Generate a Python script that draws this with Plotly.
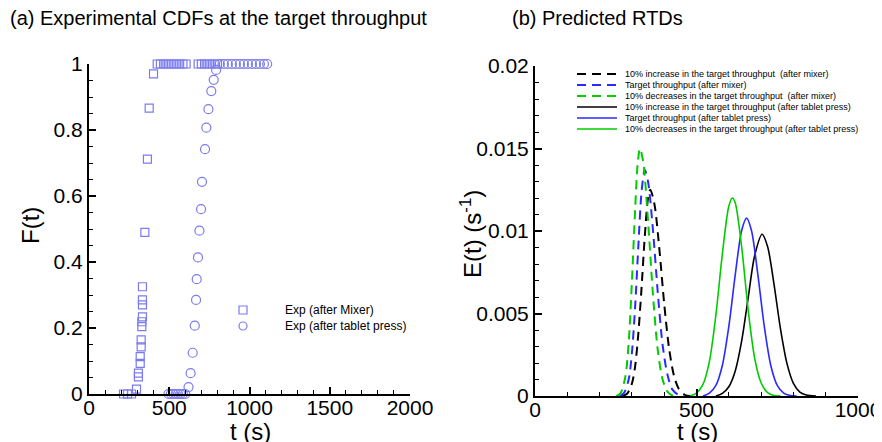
import plotly.graph_objects as go

W, H = 882, 442
OFF = 8  # page body margin offset of the rendered figure

def px(x):
    return (x - OFF) / W

def py(y):
    return 1 - (y - OFF) / H

FONT = "Liberation Sans, Arial, sans-serif"

# ---------------- (a) experimental CDFs ----------------
mixer_t = [215, 240, 265, 296, 308, 308, 319, 319, 325, 325, 329, 329, 333, 333, 333, 333,
           348, 364, 375, 402, 425, 445, 465, 485, 505, 525, 545, 565, 585, 605,
           680, 700, 720, 740, 760, 780, 800]
mixer_F = [0, 0, 0, 0.015, 0.052, 0.063, 0.093, 0.113, 0.143, 0.164, 0.204, 0.219, 0.234, 0.27, 0.285, 0.325,
           0.49, 0.712, 0.866, 0.97, 1, 1, 1, 1, 1, 1, 1, 1, 1, 1,
           1, 1, 1, 1, 1, 1, 1]

press_t = [495, 510, 525, 540, 555, 570, 585, 600, 620, 633, 646, 659, 667, 671, 679, 688, 698, 704,
           723, 731, 744, 762, 777, 792, 815, 840, 865, 890, 915, 940, 965, 990, 1015, 1040, 1065, 1090, 1110]
press_F = [0, 0, 0, 0, 0, 0, 0, 0, 0.021, 0.063, 0.125, 0.207, 0.285, 0.348, 0.414, 0.495, 0.56, 0.643,
           0.742, 0.807, 0.863, 0.918, 0.952, 0.982, 1, 1, 1, 1, 1, 1, 1, 1, 1, 1, 1, 1, 1]

exp_names = ["Exp (after Mixer)", "Exp (after tablet press)"]
exp_symbols = ["square-open", "circle-open"]
exp_color = "#7b7bf0"

# ---------------- (b) predicted RTDs ----------------
inc_mix_t = [270, 285, 300, 310, 320, 330, 340, 350, 357, 370, 385, 400, 415, 430, 445, 465, 480]
inc_mix_E = [0, 0.00014, 0.00075, 0.0018, 0.0038, 0.0066, 0.0097, 0.012, 0.0125, 0.0116, 0.0089, 0.0056,
             0.0029, 0.00125, 0.00044, 0.00006, 0]

tgt_mix_t = [262, 275, 290, 300, 310, 320, 330, 340, 350, 365, 380, 395, 410, 425, 445, 460]
tgt_mix_E = [0, 0.00017, 0.001, 0.0026, 0.0054, 0.0091, 0.0124, 0.0137, 0.013, 0.0101, 0.0063, 0.0031,
             0.0013, 0.0004, 0.00005, 0]

dec_mix_t = [252, 265, 280, 290, 300, 310, 318, 325, 335, 350, 365, 380, 395, 410, 425, 440]
dec_mix_E = [0, 0.00017, 0.0012, 0.0032, 0.0069, 0.0113, 0.0141, 0.015, 0.0142, 0.0106, 0.0062, 0.0028,
             0.001, 0.00027, 0.00004, 0]

inc_tab_t = [560, 580, 600, 620, 640, 660, 680, 703, 720, 740, 760, 780, 800, 820, 840, 870]
inc_tab_E = [0, 0.00016, 0.00056, 0.00152, 0.00335, 0.00595, 0.0085, 0.0098, 0.00906, 0.00677, 0.00407,
             0.00198, 0.00077, 0.00024, 0.00006, 0]

tgt_tab_t = [520, 540, 560, 580, 600, 620, 640, 655, 670, 690, 710, 730, 750, 770, 790, 810]
tgt_tab_E = [0, 0.00017, 0.00064, 0.00185, 0.0042, 0.00735, 0.01005, 0.01078, 0.01005, 0.00735, 0.0042,
             0.00185, 0.00064, 0.00017, 0.00003, 0]

dec_tab_t = [480, 500, 520, 540, 560, 580, 600, 611, 620, 640, 660, 680, 700, 720, 740, 760]
dec_tab_E = [0, 0.00017, 0.0007, 0.0021, 0.0049, 0.0086, 0.0115, 0.012, 0.0117, 0.009, 0.0052, 0.0023,
             0.0008, 0.0002, 0.00003, 0]

rtd_names = [
    "10% increase in the target throughput  (after mixer)",
    "Target throughput (after mixer)",
    "10% decreases in the target throughput  (after mixer)",
    "10% increase in the target throughput (after tablet press)",
    "Target throughput (after tablet press)",
    "10% decreases in the target throughput (after tablet press)",
]
rtd_t = [inc_mix_t, tgt_mix_t, dec_mix_t, inc_tab_t, tgt_tab_t, dec_tab_t]
rtd_E = [inc_mix_E, tgt_mix_E, dec_mix_E, inc_tab_E, tgt_tab_E, dec_tab_E]
rtd_colors = ["#000000", "#2a2aff", "#00cc00", "#000000", "#2a2aff", "#00cc00"]
rtd_dash = ["9px,6px"] * 3 + ["solid"] * 3
rtd_width = [2, 2, 2, 1.6, 1.6, 1.6]

fig = go.Figure()

for name, sym, tt, ff in zip(exp_names, exp_symbols, [mixer_t, press_t], [mixer_F, press_F]):
    fig.add_trace(go.Scatter(
        x=tt, y=ff, mode="markers", name=name, showlegend=False, cliponaxis=False,
        marker=dict(symbol=sym, size=8 if sym.startswith("square") else 9, color=exp_color,
                    line=dict(width=1.2, color=exp_color)),
        xaxis="x", yaxis="y"))

for name, tt, ee, c, d, w in zip(rtd_names, rtd_t, rtd_E, rtd_colors, rtd_dash, rtd_width):
    fig.add_trace(go.Scatter(
        x=tt, y=ee, mode="lines", name=name, showlegend=False,
        line=dict(color=c, dash=d, width=w, shape="spline", smoothing=0.8),
        xaxis="x2", yaxis="y2"))

axis_common = dict(
    showline=True, linecolor="black", linewidth=2, mirror=False,
    ticks="inside", ticklen=7, tickwidth=1.5, tickcolor="black",
    showgrid=False, zeroline=False, automargin=False,
    tickfont=dict(family=FONT, size=21, color="black"),
)
minor_common = dict(ticks="inside", ticklen=4, tickwidth=1.2, tickcolor="black", showgrid=False)

fig.update_layout(
    width=W, height=H,
    margin=dict(l=0, r=0, t=0, b=0, pad=0, autoexpand=False),
    paper_bgcolor="white", plot_bgcolor="white",
    font=dict(family=FONT, color="black"),
    showlegend=False,
    xaxis=dict(domain=[px(89), px(410)], range=[0, 2000], dtick=500, anchor="y",
               ticklabelstandoff=-6,
               minor=dict(dtick=100, **minor_common), **axis_common),
    yaxis=dict(domain=[py(394), py(64)], range=[0, 1], dtick=0.2, anchor="x",
               minor=dict(dtick=0.05, **minor_common), **axis_common),
    xaxis2=dict(domain=[px(535), px(858)], range=[0, 1000], dtick=500, anchor="y2",
                ticklabelstandoff=-6,
                minor=dict(dtick=100, **minor_common), **axis_common),
    yaxis2=dict(domain=[py(396), py(66)], range=[0, 0.02], dtick=0.005, anchor="x2",
                tickformat="~g",
                minor=dict(dtick=0.001, **minor_common), **axis_common),
)

annotations = [
    dict(text="(a) Experimental CDFs at the target throughput", x=px(8), y=py(18),
         xanchor="left", yanchor="middle", font=dict(size=20)),
    dict(text="(b) Predicted RTDs", x=px(510), y=py(18),
         xanchor="left", yanchor="middle", font=dict(size=20)),
    dict(text="F(t)", x=px(30), y=py(226), textangle=-90,
         xanchor="center", yanchor="middle", font=dict(size=24)),
    dict(text="t (s)", x=px(250), y=py(431), xanchor="center", yanchor="middle", font=dict(size=24)),
    dict(text="E(t) (s<sup>-1</sup>)", x=px(471), y=py(234), textangle=-90,
         xanchor="center", yanchor="middle", font=dict(size=24)),
    dict(text="t (s)", x=px(697), y=py(431), xanchor="center", yanchor="middle", font=dict(size=24)),
]

shapes = []
# legend for panel (a), built from the trace names and symbols
for i, (name, sym) in enumerate(zip(exp_names, exp_symbols)):
    yc = py(310 + 16 * i)
    xc = px(243)
    shapes.append(dict(type="rect" if sym.startswith("square") else "circle",
                       xref="paper", yref="paper", xsizemode="pixel", ysizemode="pixel",
                       xanchor=xc, yanchor=yc, x0=-4, x1=4, y0=-4, y1=4,
                       line=dict(color=exp_color, width=1.2)))
    annotations.append(dict(text=name, x=px(283), y=yc, xanchor="left", yanchor="middle",
                            font=dict(size=12)))

# legend for panel (b), built from the trace names and styles
for i, (name, c, d, w) in enumerate(zip(rtd_names, rtd_colors, rtd_dash, rtd_width)):
    yc = py(74 + 11 * i)
    shapes.append(dict(type="line", xref="paper", yref="paper", x0=px(577), x1=px(617), y0=yc, y1=yc,
                       line=dict(color=c, dash=d, width=w)))
    annotations.append(dict(text=name, x=px(623), y=yc, xanchor="left", yanchor="middle",
                            font=dict(size=9)))

for a in annotations:
    a.setdefault("xref", "paper")
    a.setdefault("yref", "paper")
    a["showarrow"] = False

fig.update_layout(annotations=annotations, shapes=shapes)

fig.write_html("out.html")
